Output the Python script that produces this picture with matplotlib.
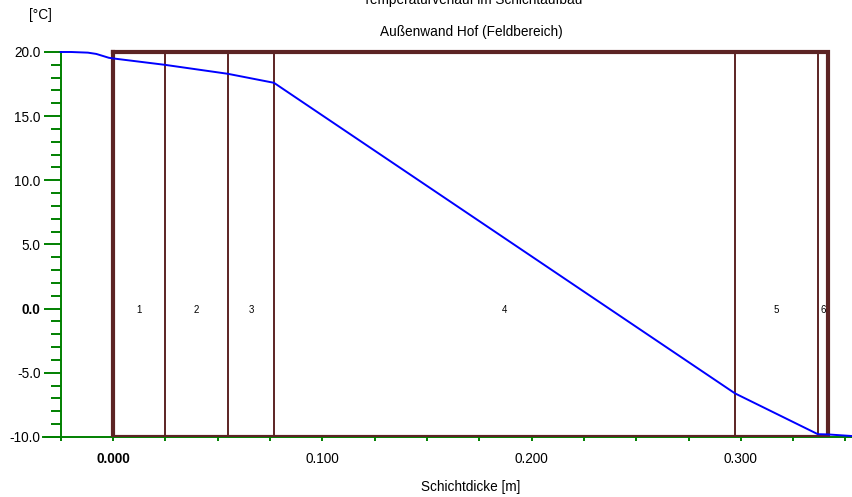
import numpy as np
from matplotlib import pyplot as plt
from matplotlib.ticker import MultipleLocator, FixedLocator

plt.rcParams['font.family'] = ['Liberation Sans', 'DejaVu Sans']

# layer boundaries [m] and temperature profile [°C]
bounds = [0.0, 0.0248, 0.0549, 0.0769, 0.2972, 0.3368, 0.3416]
layer_names = ['1', '2', '3', '4', '5', '6']
prof_x = [-0.025, -0.020, -0.012, -0.008, -0.004, -0.002, 0.0, 0.0248, 0.0549, 0.0769,
          0.2972, 0.3368, 0.3416, 0.3536]
prof_t = [20.0, 20.0, 19.95, 19.85, 19.65, 19.55, 19.5, 19.0, 18.3, 17.6,
          -6.6, -9.78, -9.8, -9.93]

green = '#008000'
brown = '#5c2424'

fig = plt.figure(figsize=(8.53, 4.97), dpi=100)
ax = fig.add_axes([43/853, 1-437/497, 810/853, 397/497])
ax.set_xlim(-0.03345, 0.3536)
ax.set_ylim(-10, 20.935)

# layers
ax.plot([bounds[0], bounds[-1], bounds[-1], bounds[0], bounds[0]],
        [20, 20, -10, -10, 20], color=brown, lw=3, solid_joinstyle='miter', zorder=3)
for b in bounds[1:-1]:
    ax.plot([b, b], [-10, 20], color=brown, lw=1.4, zorder=3)
for i, name in enumerate(layer_names):
    ax.text((bounds[i]+bounds[i+1])/2, -0.1, name, ha='center', va='center', fontsize=7)

ax.plot(prof_x, prof_t, color='#0000ff', lw=1.4, zorder=4)

# axes styling
ax.spines['top'].set_visible(False)
ax.spines['right'].set_visible(False)
ax.spines['left'].set_position(('data', -0.025))
ax.spines['left'].set_bounds(-10, 20)
for s in ['left', 'bottom']:
    ax.spines[s].set_color(green)
    ax.spines[s].set_linewidth(1.4)

ax.yaxis.set_major_locator(FixedLocator([-10, -5, 0, 5, 10, 15, 20]))
ax.yaxis.set_minor_locator(MultipleLocator(1))
ax.xaxis.set_major_locator(FixedLocator([0.0, 0.1, 0.2, 0.3]))
ax.xaxis.set_minor_locator(MultipleLocator(0.025))
ax.set_yticklabels(['-10.0', '-5.0', '0.0', '5.0', '10.0', '15.0', '20.0'])
ax.set_xticklabels(['0.000', '0.100', '0.200', '0.300'])
ax.tick_params(axis='y', which='major', length=12.5, width=1.4, color=green, labelsize=9.8, pad=2)
ax.tick_params(axis='y', which='minor', length=7, width=1.4, color=green)
ax.tick_params(axis='x', which='both', length=3, width=1.4, color=green, labelsize=9.8, pad=8)
for lab in ax.get_yticklabels():
    if lab.get_text() == '0.0':
        lab.set_fontweight('bold')
for lab in ax.get_xticklabels():
    if lab.get_text() == '0.000':
        lab.set_fontweight('bold')

fig.text(40/853, 1-15/497, '[°C]', ha='center', va='center', fontsize=9.8)
fig.text(473/853, 1-4/497, 'Temperaturverlauf im Schichtaufbau', ha='center', va='baseline', fontsize=9.8)
fig.text(471/853, 1-32/497, 'Außenwand Hof (Feldbereich)', ha='center', va='center', fontsize=9.8)
fig.text(471/853, 1-487/497, 'Schichtdicke [m]', ha='center', va='center', fontsize=9.8)

fig.savefig('out.png', dpi=100)
